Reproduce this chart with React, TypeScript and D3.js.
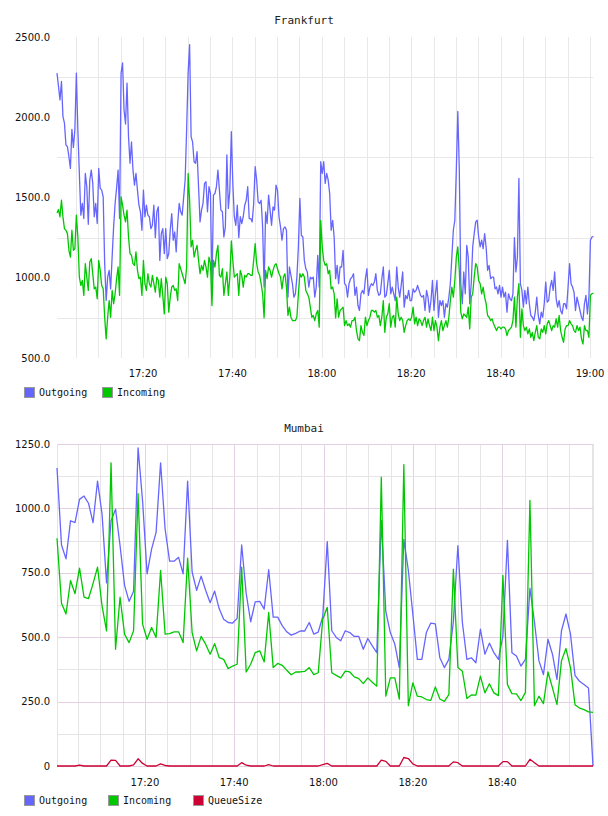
import React from "react";
import * as d3 from "d3";

// Frankfurt: one sample every 20 s, 17:00:45 -> 19:00:45
const frankfurtStart = "2015-06-01 17:00:45";
const frankfurtEnd = "2015-06-01 19:00:45";

const frankfurtOutgoing = [
  2275, 2192, 2108, 2223, 2004, 1963, 1827, 1817, 1754, 1681,
  1925, 1812, 1921, 2275, 1921, 1650, 1390, 1463, 1369, 1650,
  1567, 1333, 1609, 1671, 1588, 1380, 1463, 1338, 1681, 1557,
  1546, 1504, 1088, 858, 1004, 1046, 931, 1129, 1317, 1463,
  1560, 1671, 1369, 2275, 2338, 2046, 1958, 2213, 1879, 1713,
  1846, 1671, 1577, 1650, 1546, 1452, 1411, 1296, 1546, 1380,
  1452, 1390, 1380, 1306, 1327, 1452, 1250, 1411, 1442, 1108,
  1275, 1306, 1150, 1306, 1119, 1150, 1296, 1400, 1234, 1285,
  1161, 1338, 1463, 1411, 1390, 1500, 1609, 1921, 2275, 2452,
  1879,
  1846, 1723, 1713, 1786, 1567, 1348, 1421, 1463, 1588, 1598,
  1411, 1567, 1525, 942, 1515, 1525, 1567, 1671, 1546, 1421,
  1411, 1254, 1317, 1765, 1432, 1546, 1910, 1588, 1380, 1327,
  1452, 1250, 1380, 1338, 1380, 1452, 1483, 1567, 1369, 1369,
  1348, 1463, 1692, 1609, 1473, 1463, 1483, 1317, 942, 1411,
  1338, 1515, 1421, 1327, 1442, 1421, 1577, 1546, 1380, 1317,
  1234, 1306, 1317, 1296, 879, 1067, 1015, 963, 879, 900,
  1004, 1192, 1494, 1265, 1254, 1108, 1056, 1036, 942, 1004,
  994, 1004, 879, 942, 1140, 942, 1723, 1650, 1723, 1588,
  1650, 1609, 1525, 1296, 1358, 1254, 994, 1077, 963, 1067,
  1067, 1171, 963, 952, 879, 963, 994, 1004, 1025, 890,
  942, 827, 796, 900, 921, 900, 994, 1056, 890, 942,
  963, 952, 973, 1025, 921, 890, 900, 994, 1067, 879,
  890, 963, 1046, 900, 942, 900, 858, 1067, 942, 879,
  952, 1036, 817, 890, 869, 921, 858, 858, 931, 910,
  921, 952, 921, 890, 879, 890, 796, 921, 879, 786,
  858, 983, 796, 900, 983, 754, 858, 827, 858, 754,
  838, 817, 879, 963, 1129, 1296, 1358, 1671, 2036, 1671,
  963, 838, 1036, 900, 1202, 1129, 838, 963, 1192, 1275,
  1348, 1358, 1254, 1192, 1234, 1181, 1275, 1192, 1046, 1077,
  994, 1004, 1004, 931, 942, 900, 952, 879, 942, 879,
  910, 786, 900, 869, 858, 900, 1250, 1036, 1129, 1619,
  963, 921, 817, 921, 838, 942, 838, 765, 754, 733,
  786, 879, 765, 713, 786, 754, 838, 973, 848, 858,
  942, 983, 921, 1036, 869, 817, 858, 796, 775, 838,
  838, 806, 942, 1088, 963, 942, 910, 796, 879, 838,
  796, 754, 733, 838, 890, 775, 879, 1234, 1254, 1258,
];

const frankfurtIncoming = [
  1404, 1425, 1379, 1483, 1379, 1306, 1296, 1275, 1171, 1129,
  1296, 1171, 1181, 1390, 1254, 1004, 952, 983, 890, 1088,
  1004, 921, 1098, 1119, 1025, 931, 942, 869, 1108, 1046,
  952, 931, 754, 619, 754, 858, 754, 921, 838, 900,
  994, 1067, 890, 1504, 1452, 1390, 1348, 1421, 1254, 1150,
  1140, 1088, 1077, 1161, 1046, 994, 1004, 890, 1108, 963,
  921, 1025, 963, 942, 1015, 963, 910, 1004, 983, 879,
  994, 890, 775, 1004, 963, 786, 879, 942, 952, 921,
  931, 858, 1088, 1056, 1025, 994, 963, 1067, 1650, 1483,
  1192,
  1234, 1129, 1171, 1202, 1108, 1025, 1077, 1046, 1108, 1067,
  1004, 1129, 1088, 827, 1108, 1067, 1150, 1202, 1015, 1004,
  1056, 890, 963, 1036, 890, 1004, 1229, 1108, 1004, 1015,
  1025, 890, 1046, 1015, 942, 1015, 1004, 1025, 1025, 1015,
  1015, 1108, 1213, 1088, 1036, 1015, 963, 900, 750, 1046,
  994, 1067, 1046, 1004, 1046, 1077, 1088, 1056, 1025, 1004,
  931, 1004, 1025, 942, 765, 817, 754, 733, 733, 733,
  754, 900, 1025, 1004, 1025, 1004, 921, 900, 879, 817,
  754, 765, 733, 775, 796, 692, 1358, 1192, 1108, 1077,
  1088, 1025, 1046, 931, 942, 900, 750, 869, 754, 796,
  806, 817, 702, 733, 702, 713, 692, 733, 733, 754,
  671, 619, 608, 702, 660, 640, 754, 702, 733, 754,
  796, 796, 786, 796, 754, 765, 702, 754, 858, 660,
  754, 775, 838, 692, 754, 765, 692, 879, 775, 733,
  754, 733, 660, 702, 733, 744, 733, 754, 817, 713,
  754, 702, 744, 733, 702, 733, 754, 692, 744, 702,
  671, 754, 671, 733, 692, 608, 692, 733, 671, 702,
  733, 692, 754, 858, 942, 879, 983, 1129, 1192, 1046,
  786, 744, 775, 765, 754, 817, 681, 879, 900, 1004,
  1088, 1067, 983, 963, 900, 942, 879, 838, 765, 754,
  733, 744, 713, 692, 671, 692, 692, 681, 692, 692,
  681, 640, 671, 681, 692, 733, 879, 692, 879, 963,
  629, 806, 702, 671, 692, 650, 681, 629, 660, 608,
  660, 702, 629, 619, 681, 660, 702, 650, 713, 733,
  702, 671, 702, 692, 744, 692, 765, 671, 629, 598,
  681, 702, 702, 733, 713, 702, 671, 660, 702, 671,
  692, 619, 587, 702, 671, 671, 629, 890, 900, 905,
];

// Mumbai: one sample per ~minute, 17:00:20 -> 19:00:20
const mumbaiStart = "2015-06-01 17:00:20";
const mumbaiEnd = "2015-06-01 19:00:20";

const mumbaiOutgoing = [
  1157, 858, 804, 952, 945, 1035, 1048, 1020, 945, 1106,
  978, 711, 952, 997, 855, 701, 639, 678, 1235, 1029,
  746, 842, 907, 1177, 920, 795, 795, 810, 746, 1106,
  753, 682, 737, 682, 634, 679, 611, 570, 557, 555,
  573, 858, 670, 560, 637, 639, 609, 762, 578, 578,
  545, 521, 508, 515, 524, 524, 557, 512, 520, 580,
  871, 525, 499, 486, 525, 518, 503, 503, 453, 495,
  466, 440, 953, 600, 518, 473, 382, 880, 760, 590,
  414, 414, 518, 555, 552, 420, 382, 414, 560, 855,
  557, 414, 420, 401, 531, 434, 477, 440, 414, 505,
  876, 440, 427, 388, 414, 690, 560, 408, 355, 492,
  434, 336, 525, 590, 512, 352, 329, 316, 303, 0,
];

const mumbaiIncoming = [
  884, 632, 590, 720, 669, 768, 656, 650, 708, 772,
  622, 525, 1177, 453, 655, 512, 479, 525, 1057, 551,
  492, 538, 499, 759, 512, 514, 521, 521, 479, 807,
  518, 447, 503, 473, 434, 475, 421, 414, 378, 388,
  395, 772, 365, 395, 440, 447, 404, 596, 382, 398,
  391, 372, 354, 365, 365, 367, 382, 355, 362, 570,
  616, 362, 352, 342, 368, 365, 346, 339, 320, 342,
  325, 310, 1121, 271, 342, 342, 260, 1170, 234, 323,
  271, 268, 258, 255, 307, 260, 251, 277, 764, 382,
  368, 262, 276, 275, 349, 284, 319, 284, 273, 740,
  316, 281, 280, 254, 286, 1031, 234, 271, 242, 365,
  303, 238, 408, 456, 382, 238, 225, 219, 210, 208,
];

const mumbaiQueueSize = [
  0, 0, 0, 0, 0, 3, 0, 0, 0, 0,
  0, 0, 23, 22, 0, 0, 0, 4, 28, 10,
  0, 0, 0, 8, 2, 0, 0, 0, 0, 0,
  0, 0, 0, 0, 0, 0, 0, 0, 0, 0,
  0, 13, 3, 0, 0, 0, 0, 5, 0, 0,
  0, 0, 0, 0, 0, 0, 0, 0, 0, 5,
  10, 0, 0, 0, 0, 0, 0, 0, 0, 0,
  0, 0, 23, 18, 0, 0, 0, 33, 29, 8,
  0, 0, 0, 0, 0, 0, 0, 0, 16, 13,
  0, 0, 0, 0, 0, 0, 0, 0, 0, 17,
  17, 0, 0, 0, 0, 26, 13, 0, 0, 0,
  0, 0, 0, 0, 0, 0, 0, 0, 0, 0,
];

const frankfurtYTicks = [500, 1000, 1500, 2000, 2500];
const frankfurtYGrid = [750, 1250, 1750, 2250];
const frankfurtTimeLabels = ["17:20", "17:40", "18:00", "18:20", "18:40", "19:00"];

const mumbaiYTicks = [0, 250, 500, 750, 1000, 1250];
const mumbaiYGrid = [125, 375, 625, 875, 1125];
const mumbaiTimeLabels = ["17:20", "17:40", "18:00", "18:20", "18:40"];

const COLORS = { out: "#6666ff", inc: "#00c800", queue: "#cc0033" };
const SANS = "'DejaVu Sans', Verdana, sans-serif";
const MONO = "'DejaVu Sans Mono', monospace";

const parseFull = d3.timeParse("%Y-%m-%d %H:%M:%S");
const parseHM = d3.timeParse("%Y-%m-%d %H:%M");
const fmtHM = d3.timeFormat("%H:%M");

function sampleTimes(start: string, end: string, n: number) {
  const t0 = +parseFull(start)!;
  const t1 = +parseFull(end)!;
  const step = (t1 - t0) / (n - 1);
  return d3.range(n).map((i) => new Date(t0 + i * step));
}

type Series = { name: string; color: string; values: number[] };

function TimeChart(props: {
  title: string;
  titleY: number;
  series: Series[];
  start: string;
  end: string;
  xRange: [number, number];
  yRange: [number, number];
  yDomain: [number, number];
  yTicks: number[];
  yGrid: number[];
  timeLabels: string[];
  labelY: number;
  legendY: number;
  legendX: number[];
  pink?: boolean;
}) {
  const { series, xRange, yRange } = props;
  const times = sampleTimes(props.start, props.end, series[0].values.length);
  const x = d3.scaleTime().domain([times[0], times[times.length - 1]]).range(xRange);
  const y = d3.scaleLinear().domain(props.yDomain).range(yRange);
  const day = props.start.slice(0, 10);

  const fiveMin = x.ticks(d3.timeMinute.every(5)!);
  const majorMin = props.timeLabels.map((s) => parseHM(`${day} ${s}`)!);
  const isMajor = (d: Date) => props.pink && majorMin.some((m) => +m === +d);

  const minorStroke = props.pink ? "#e6e4e6" : "#e8e8e8";
  const majorStroke = "#e3d0e3";

  const fmtY = (v: number) => (v === 0 ? "0" : v.toFixed(1));

  return (
    <g>
      <text x={304} y={props.titleY} textAnchor="middle" dy="0.35em"
        style={{ font: `11px ${MONO}`, fill: "#222" }}>{props.title}</text>

      {/* vertical grid */}
      {fiveMin.map((d, i) => (
        <line key={"v" + i} x1={Math.round(x(d)) + 0.5} x2={Math.round(x(d)) + 0.5}
          y1={yRange[1]} y2={yRange[0]}
          stroke={isMajor(d) ? majorStroke : minorStroke} strokeWidth={1} />
      ))}
      {/* horizontal grid */}
      {props.yGrid.map((v, i) => (
        <line key={"h" + i} x1={xRange[0]} x2={xRange[1]}
          y1={Math.round(y(v)) + 0.5} y2={Math.round(y(v)) + 0.5}
          stroke={minorStroke} strokeWidth={1} />
      ))}
      {props.pink && props.yTicks.map((v, i) => (
        <line key={"hm" + i} x1={xRange[0]} x2={xRange[1]}
          y1={Math.round(y(v)) + 0.5} y2={Math.round(y(v)) + 0.5}
          stroke={majorStroke} strokeWidth={1} />
      ))}
      {props.pink && (
        <g stroke="#ecdfec" strokeWidth={1}>
          <line x1={Math.round(xRange[0]) + 0.5} x2={Math.round(xRange[0]) + 0.5} y1={yRange[1]} y2={yRange[0]} />
          <line x1={Math.round(xRange[1]) + 0.5} x2={Math.round(xRange[1]) + 0.5} y1={yRange[1]} y2={yRange[0]} />
        </g>
      )}

      {/* series */}
      {series.map((s) => {
        const line = d3.line<number>()
          .x((_, i) => x(times[i]))
          .y((v) => y(v));
        return (
          <path key={s.name} d={line(s.values) || ""} fill="none"
            stroke={s.color} strokeWidth={1.3} strokeLinejoin="round" />
        );
      })}

      {/* y labels */}
      {props.yTicks.map((v) => (
        <text key={"yl" + v} x={50} y={y(v)} dy="0.35em" textAnchor="end"
          style={{ font: `10px ${SANS}`, fill: "#111" }}>{fmtY(v)}</text>
      ))}
      {/* x labels */}
      {majorMin.map((d) => (
        <text key={"xl" + fmtHM(d)} x={x(d)} y={props.labelY} dy="0.35em" textAnchor="middle"
          style={{ font: `10px ${SANS}`, fill: "#111" }}>{fmtHM(d)}</text>
      ))}

      {/* legend */}
      {series.map((s, i) => (
        <g key={"lg" + s.name} transform={`translate(${props.legendX[i]},${props.legendY})`}>
          <rect x={0.5} y={-4.5} width={10} height={10} fill={s.color} stroke="#999" strokeWidth={1} />
          <text x={15} y={0} dy="0.35em" style={{ font: `10px ${MONO}`, fill: "#111" }}>{s.name}</text>
        </g>
      ))}
    </g>
  );
}

export default function App() {
  return (
    <svg width={608} height={816}
      style={{ position: "absolute", left: 0, top: 0, background: "#fff" }}>
      <TimeChart
        title="Frankfurt"
        titleY={20}
        series={[
          { name: "Outgoing", color: COLORS.out, values: frankfurtOutgoing },
          { name: "Incoming", color: COLORS.inc, values: frankfurtIncoming },
        ]}
        start={frankfurtStart}
        end={frankfurtEnd}
        xRange={[57, 593.4]}
        yRange={[358, 37]}
        yDomain={[500, 2500]}
        yTicks={frankfurtYTicks}
        yGrid={frankfurtYGrid}
        timeLabels={frankfurtTimeLabels}
        labelY={373}
        legendY={392}
        legendX={[24, 102]}
      />
      <TimeChart
        title="Mumbai"
        titleY={428}
        series={[
          { name: "Outgoing", color: COLORS.out, values: mumbaiOutgoing },
          { name: "Incoming", color: COLORS.inc, values: mumbaiIncoming },
          { name: "QueueSize", color: COLORS.queue, values: mumbaiQueueSize },
        ]}
        start={mumbaiStart}
        end={mumbaiEnd}
        xRange={[57, 593]}
        yRange={[766, 444]}
        yDomain={[0, 1250]}
        yTicks={mumbaiYTicks}
        yGrid={mumbaiYGrid}
        timeLabels={mumbaiTimeLabels}
        labelY={782}
        legendY={800}
        legendX={[24, 108, 193]}
        pink
      />
    </svg>
  );
}
